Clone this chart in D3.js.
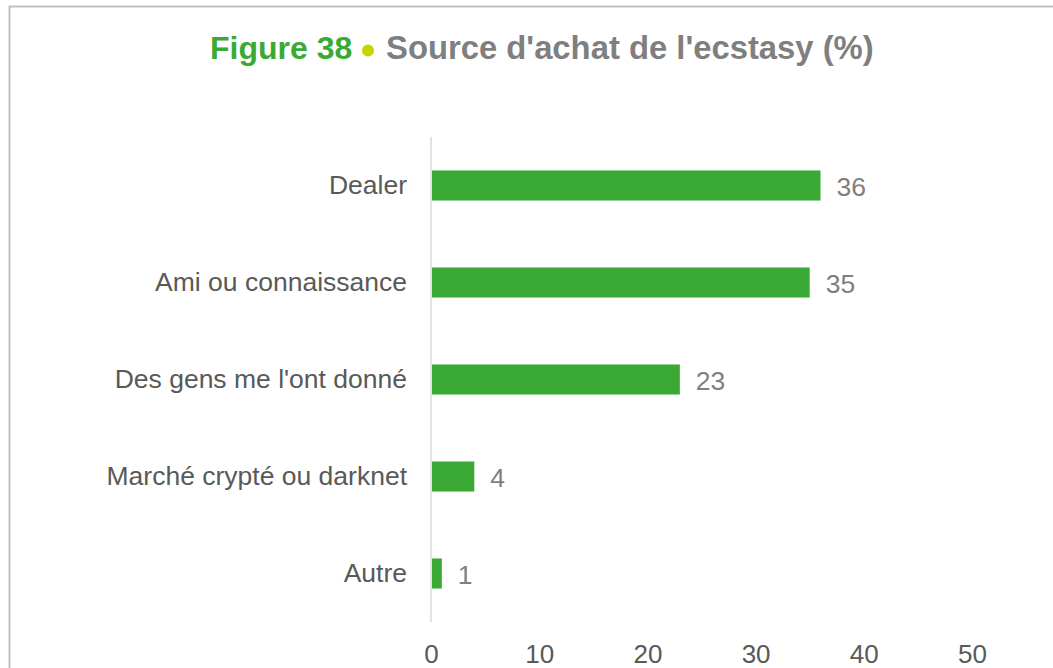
<!DOCTYPE html>
<html>
<head>
<meta charset="utf-8">
<script src="https://cdn.jsdelivr.net/npm/d3@7"></script>
<style>
  html, body { margin: 0; padding: 0; background: #fff; }
  svg { display: block; font-family: "Liberation Sans", Arial, sans-serif; }
</style>
</head>
<body>
<svg id="chart" width="1053" height="668"></svg>
<script>
// Source d'achat de l'ecstasy (%)
const categories = ["Dealer", "Ami ou connaissance", "Des gens me l'ont donné", "Marché crypté ou darknet", "Autre"];
const values = [36, 35, 23, 4, 1];
const xTicks = [0, 10, 20, 30, 40, 50];

const svg = d3.select("#chart");
const FONT = "Liberation Sans, Arial, sans-serif";

// Outer frame (runs off the right and bottom edges)
svg.append("rect")
  .attr("x", 9.5).attr("y", 6.5)
  .attr("width", 1100).attr("height", 700)
  .attr("fill", "none")
  .attr("stroke", "#bfbfbf")
  .attr("stroke-width", 2);

// Title: figure number, bullet, heading
svg.append("text")
  .attr("x", 210).attr("y", 59)
  .attr("font-size", 32).attr("font-weight", "bold")
  .attr("fill", "#3aaa35")
  .text("Figure 38");
svg.append("circle")
  .attr("cx", 368).attr("cy", 50.5).attr("r", 6)
  .attr("fill", "#c8d400");
svg.append("text")
  .attr("x", 386).attr("y", 59)
  .attr("font-size", 32.8).attr("font-weight", "bold")
  .attr("fill", "#7f7f7f")
  .text("Source d'achat de l'ecstasy (%)");

const x = d3.scaleLinear().domain([0, 50]).range([431, 972]);
const y = d3.scaleBand().domain(categories).range([137, 622]).paddingInner(0.69).paddingOuter(0.345);

// Vertical baseline
svg.append("line")
  .attr("x1", x(0)).attr("x2", x(0))
  .attr("y1", 137).attr("y2", 622)
  .attr("stroke", "#d9d9d9").attr("stroke-width", 1.5);

// Bars
svg.selectAll("rect.bar")
  .data(categories)
  .join("rect")
  .attr("class", "bar")
  .attr("x", x(0) + 1)
  .attr("y", d => y(d))
  .attr("width", (d, i) => x(values[i]) - x(0) - 1)
  .attr("height", y.bandwidth())
  .attr("fill", "#3aaa35");

// Value labels
svg.selectAll("text.val")
  .data(categories)
  .join("text")
  .attr("class", "val")
  .attr("x", (d, i) => x(values[i]) + 16)
  .attr("y", d => y(d) + y.bandwidth() / 2)
  .attr("dy", "0.38em")
  .attr("font-size", 26.5)
  .attr("fill", "#7f7f7f")
  .text((d, i) => values[i]);

// Category axis
const yAxis = d3.axisLeft(y).tickSize(0).tickPadding(24);
const gy = svg.append("g").attr("transform", `translate(${x(0)},0)`).call(yAxis);
gy.select(".domain").remove();
gy.selectAll("text").attr("font-size", 26.5).attr("fill", "#595959").attr("font-family", FONT);

// Value axis
const xAxis = d3.axisBottom(x).tickValues(xTicks).tickSize(0).tickPadding(0);
const gx = svg.append("g").attr("transform", "translate(0,640)").call(xAxis);
gx.select(".domain").remove();
gx.selectAll("text").attr("font-size", 26).attr("fill", "#595959").attr("font-family", FONT).attr("dy", "0.87em");
</script>
</body>
</html>
